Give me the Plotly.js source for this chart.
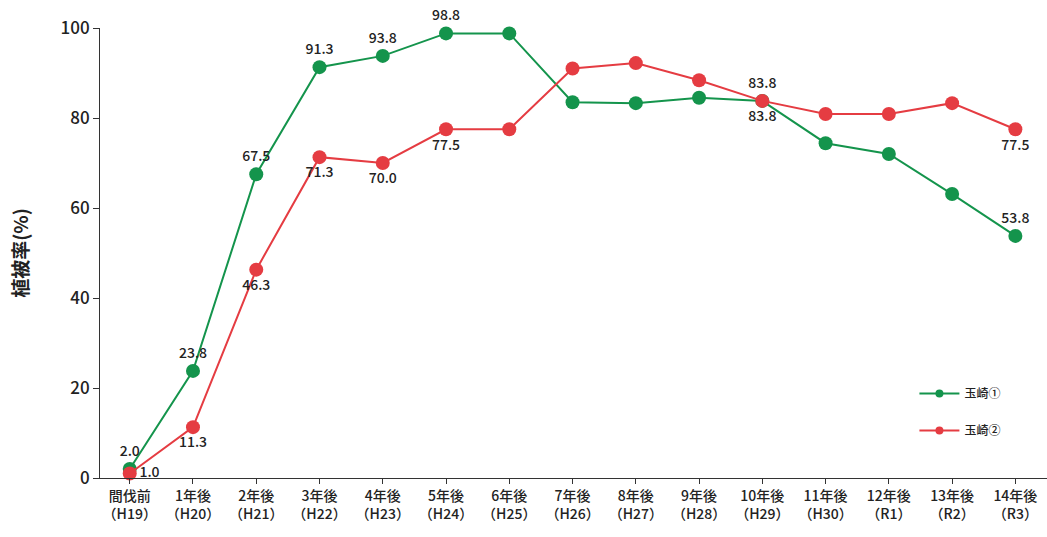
<!DOCTYPE html>
<html>
<head>
<meta charset="utf-8">
<script src="https://cdn.plot.ly/plotly-3.0.1.min.js"></script>
<style>html,body{margin:0;padding:0;background:#fff;}#chart{width:1047px;height:537px;}</style>
</head>
<body>
<div id="chart"></div>
<script>
const categories = ["間伐前<br>（H19）","1年後<br>（H20）","2年後<br>（H21）","3年後<br>（H22）","4年後<br>（H23）","5年後<br>（H24）","6年後<br>（H25）","7年後<br>（H26）","8年後<br>（H27）","9年後<br>（H28）","10年後<br>（H29）","11年後<br>（H30）","12年後<br>（R1）","13年後<br>（R2）","14年後<br>（R3）"];
const tamasaki1 = [2.0, 23.8, 67.5, 91.3, 93.8, 98.8, 98.8, 83.5, 83.3, 84.5, 83.8, 74.4, 72.0, 63.1, 53.8];
const tamasaki2 = [1.0, 11.3, 46.3, 71.3, 70.0, 77.5, 77.5, 91.0, 92.2, 88.4, 83.8, 80.9, 80.9, 83.3, 77.5];
const labels1 = ["2.0","23.8","67.5","91.3","93.8","98.8","","","","","83.8","","","","53.8"];
const labels2 = ["1.0","11.3","46.3","71.3","70.0","77.5","","","","","83.8","","","","77.5"];
const pos1 = ["top center","top center","top center","top center","top center","top center","top center","top center","top center","top center","bottom center","top center","top center","top center","top center"];
const pos2 = ["middle right","bottom center","bottom center","bottom center","bottom center","bottom center","bottom center","bottom center","bottom center","bottom center","top center","bottom center","bottom center","bottom center","bottom center"];
const seriesNames = ["玉崎①","玉崎②"];

const x = categories.map((c,i)=>i);
const green = "#14944c", red = "#e53c42";
const font = "Noto Sans CJK JP, Noto Sans, sans-serif";

const traces = [
  {x:x, y:tamasaki1, name:seriesNames[0], type:"scatter", mode:"lines+markers+text", showlegend:false,
   line:{color:green,width:2}, marker:{color:green,size:14},
   text:labels1, textposition:pos1, textfont:{size:14,color:"#222",family:font,weight:500}, cliponaxis:false},
  {x:x, y:tamasaki2, name:seriesNames[1], type:"scatter", mode:"lines+markers+text", showlegend:false,
   line:{color:red,width:2}, marker:{color:red,size:14},
   text:labels2, textposition:pos2, textfont:{size:14,color:"#222",family:font,weight:500}, cliponaxis:false},
  {x:[null], y:[null], name:seriesNames[0], type:"scatter", mode:"lines+markers", legendgroup:"a",
   line:{color:green,width:2}, marker:{color:green,size:8}},
  {x:[null], y:[null], name:seriesNames[1], type:"scatter", mode:"lines+markers", legendgroup:"b",
   line:{color:red,width:2}, marker:{color:red,size:8}}
];

const layout = {
  width:1047, height:537,
  margin:{l:100, r:0, t:28, b:59},
  paper_bgcolor:"#fff", plot_bgcolor:"#fff",
  font:{family:font, color:"#222"},
  showlegend:true,
  legend:{x:0.86, y:0.22, xanchor:"left", yanchor:"top", font:{size:12,color:"#222",weight:500}, itemwidth:40,
          traceorder:"grouped", tracegroupgap:18, bgcolor:"rgba(0,0,0,0)"},
  xaxis:{
    range:[-0.47,14.5], tickmode:"array", tickvals:x, ticktext:categories, tickson:"boundaries",
    showline:true, linecolor:"#333", linewidth:1, showgrid:false, zeroline:false,
    ticks:"outside", ticklen:5, tickcolor:"#333",
    tickfont:{size:14,color:"#222",weight:500}, fixedrange:true
  },
  yaxis:{
    range:[0,100], tickvals:[0,20,40,60,80,100],
    showline:true, linecolor:"#333", linewidth:1, showgrid:false, zeroline:false,
    ticks:"outside", ticklen:6, tickcolor:"#333",
    tickfont:{size:17,color:"#222",weight:500},
    title:{text:"植被率(%)", font:{size:19,color:"#222",weight:"bold"}, standoff:26}
  }
};

Plotly.newPlot("chart", traces, layout, {displayModeBar:false, staticPlot:true});
</script>
</body>
</html>
